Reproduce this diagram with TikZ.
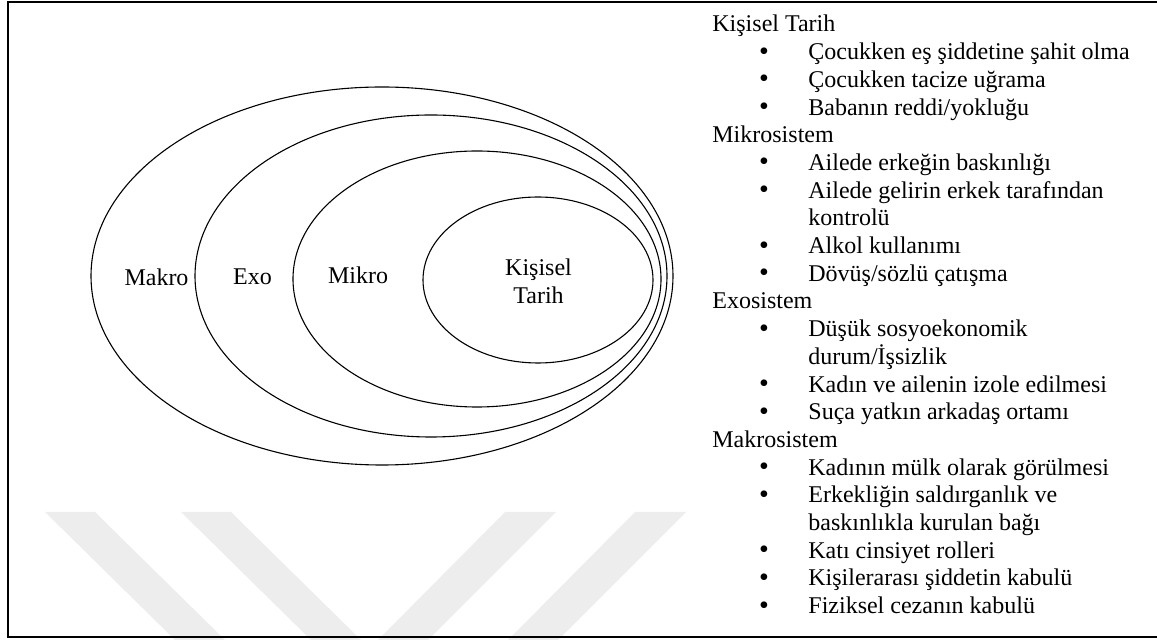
\documentclass[tikz,border=0pt]{standalone}
\usepackage{fontspec}
\setmainfont{Liberation Serif}
\begin{document}
\begin{tikzpicture}[x=0.5pt,y=-0.5pt]
% Styles
\tikzstyle{cadre}=[line width=1pt]
\tikzstyle{anneau}=[line width=0.55pt]
\tikzstyle{filigrane}=[fill=black!7,draw=none]
\tikzstyle{texte}=[inner sep=0pt,font=\fontsize{12pt}{13.85pt}\selectfont]
\tikzstyle{titre}=[texte,anchor=base west]
\tikzstyle{element}=[texte,anchor=base west]
\tikzstyle{puce}=[texte,anchor=base]
\tikzstyle{pucerond}=[inner sep=0pt,anchor=base,font=\fontsize{14pt}{14pt}\selectfont]
% Dimensions
\def\Ht{27.7}
\def\Haut{32}
\def\Xtitre{712}
\def\Xpuce{764}
\def\Xelem{808}
\useasboundingbox (0,0) rectangle (1157,640);
% Filigrane
\foreach \a in {45,181}
  \fill[filigrane] (\a,512) -- (\a+50,512) -- (\a+180,640) -- (\a+130,640) -- cycle;
\foreach \a in {505,635}
  \fill[filigrane] (\a,512) -- (\a+51,512) -- (\a-77,640) -- (\a-127,640) -- cycle;
% Cadre
\draw[cadre] (1157,2.5) -- (8,2.5) -- (8,637.5) -- (1157,637.5);
% Ellipses
\draw[anneau] (382,276) ellipse [x radius=291, y radius=189];
\draw[anneau] (431,276) ellipse [x radius=236, y radius=161];
\draw[anneau] (477,279) ellipse [x radius=184, y radius=128];
\draw[anneau] (538,280) ellipse [x radius=115, y radius=83];
% Noms des systemes
\node[puce] (makro) at (156.5,285.5) {Makro};
\node[puce] (exo) at (252.5,285) {Exo};
\node[puce] (mikro) at (358,284) {Mikro};
\node[texte,align=center] (kisisel) at (538.5,281) {Kişisel\\Tarih};
% Liste : titres
\node[titre] (tkisisel) at (\Xtitre,{\Haut+0*\Ht}) {Kişisel Tarih};
\node[titre] (tmikro) at (\Xtitre,{\Haut+4*\Ht}) {Mikrosistem};
\node[titre] (texo) at (\Xtitre,{\Haut+10*\Ht}) {Exosistem};
\node[titre] (tmakro) at (\Xtitre,{\Haut+15*\Ht}) {Makrosistem};
% Liste : puces
\foreach \k in {1,2,3,5,6,8,9,11,13,14,16,17,19,20,21}
  \node[pucerond] (puce\k) at (\Xpuce,{\Haut+\k*\Ht+0.5}) {\textbullet};
% Liste : elements
\node[element] (e1) at (\Xelem,{\Haut+1*\Ht}) {Çocukken eş şiddetine şahit olma};
\node[element] (e2) at (\Xelem,{\Haut+2*\Ht}) {Çocukken tacize uğrama};
\node[element] (e3) at (\Xelem,{\Haut+3*\Ht}) {Babanın reddi/yokluğu};
\node[element] (e5) at (\Xelem,{\Haut+5*\Ht}) {Ailede erkeğin baskınlığı};
\node[element] (e6) at (\Xelem,{\Haut+6*\Ht}) {Ailede gelirin erkek tarafından};
\node[element] (e7) at (\Xelem,{\Haut+7*\Ht}) {kontrolü};
\node[element] (e8) at (\Xelem,{\Haut+8*\Ht}) {Alkol kullanımı};
\node[element] (e9) at (\Xelem,{\Haut+9*\Ht}) {Dövüş/sözlü çatışma};
\node[element] (e11) at (\Xelem,{\Haut+11*\Ht}) {Düşük sosyoekonomik};
\node[element] (e12) at (\Xelem,{\Haut+12*\Ht}) {durum/İşsizlik};
\node[element] (e13) at (\Xelem,{\Haut+13*\Ht}) {Kadın ve ailenin izole edilmesi};
\node[element] (e14) at (\Xelem,{\Haut+14*\Ht}) {Suça yatkın arkadaş ortamı};
\node[element] (e16) at (\Xelem,{\Haut+16*\Ht}) {Kadının mülk olarak görülmesi};
\node[element] (e17) at (\Xelem,{\Haut+17*\Ht}) {Erkekliğin saldırganlık ve};
\node[element] (e18) at (\Xelem,{\Haut+18*\Ht}) {baskınlıkla kurulan bağı};
\node[element] (e19) at (\Xelem,{\Haut+19*\Ht}) {Katı cinsiyet rolleri};
\node[element] (e20) at (\Xelem,{\Haut+20*\Ht}) {Kişilerarası şiddetin kabulü};
\node[element] (e21) at (\Xelem,{\Haut+21*\Ht}) {Fiziksel cezanın kabulü};
\end{tikzpicture}
\end{document}
